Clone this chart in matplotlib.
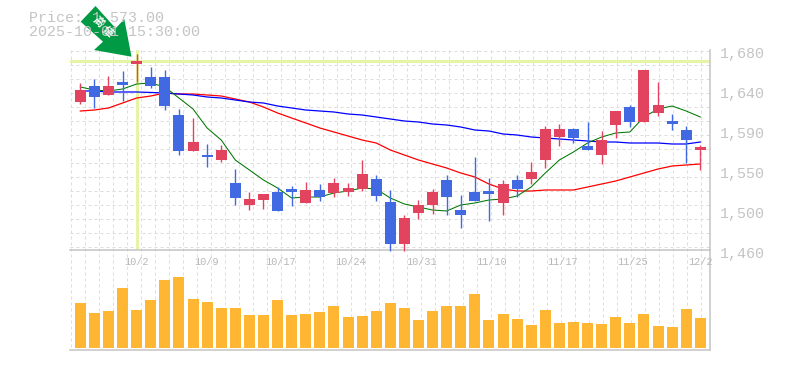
import numpy as np
import matplotlib
matplotlib.use('Agg')
import matplotlib.pyplot as plt
from matplotlib.patches import Polygon

# price data
open_ = [1622.8, 1640.4, 1630.5, 1644.8, 1664.6, 1650.3, 1650.3, 1608.5, 1568.9, 1564.5, 1559.0,
         1533.7, 1509.5, 1515.0, 1523.8, 1527.1, 1511.7, 1526.0, 1522.7, 1523.8, 1527.1,
         1538.1, 1512.8, 1466.6, 1500.7, 1509.5, 1537.0, 1504.0, 1523.8, 1524.9, 1511.7,
         1537.0, 1538.1, 1559.0, 1584.3, 1593.1, 1574.4, 1564.5, 1597.5, 1617.3, 1600.8,
         1610.7, 1601.9, 1592.0, 1570.0]
high_ = [1643.7, 1648.1, 1651.4, 1656.9, 1675.6, 1661.3, 1658.0, 1615.1, 1605.2, 1576.6, 1575.5,
         1549.1, 1523.8, 1521.6, 1529.3, 1530.4, 1534.8, 1532.6, 1539.2, 1533.7, 1559.0,
         1542.5, 1526.0, 1498.5, 1515.0, 1527.1, 1542.5, 1520.5, 1562.3, 1539.2, 1537.0,
         1542.5, 1556.8, 1596.4, 1598.6, 1594.2, 1600.8, 1590.9, 1612.9, 1619.5, 1658.0,
         1644.8, 1609.6, 1596.4, 1575.5]
low_ = [1620.6, 1616.2, 1630.5, 1623.9, 1644.8, 1638.2, 1614.0, 1564.5, 1568.9, 1551.3, 1556.8,
        1509.5, 1504.0, 1505.1, 1502.9, 1508.4, 1511.7, 1513.9, 1518.3, 1519.4, 1524.9,
        1513.9, 1458.9, 1458.9, 1494.1, 1499.6, 1498.5, 1484.2, 1513.9, 1491.9, 1498.5,
        1518.3, 1532.6, 1550.2, 1574.4, 1577.7, 1570.0, 1554.6, 1583.2, 1595.3, 1600.8,
        1607.4, 1592.0, 1555.7, 1548.0]
close_ = [1636.0, 1628.3, 1640.4, 1641.5, 1667.9, 1640.4, 1618.4, 1568.9, 1578.8, 1562.3, 1570.0,
          1517.2, 1516.1, 1521.6, 1502.9, 1523.8, 1526.0, 1518.3, 1533.7, 1528.2, 1543.6,
          1519.4, 1466.6, 1495.2, 1509.5, 1523.8, 1518.3, 1498.5, 1513.9, 1521.6, 1532.6,
          1527.1, 1545.8, 1593.1, 1593.1, 1583.2, 1570.0, 1581.0, 1612.9, 1600.8, 1658.0,
          1619.5, 1598.6, 1581.0, 1573.3]

ma_short = [1639.3, 1636.0, 1634.9, 1637.1, 1642.6, 1643.7, 1639.3, 1627.2, 1615.1, 1594.2, 1581.0,
            1559.0, 1548.0, 1537.0, 1528.2, 1517.2, 1518.3, 1518.3, 1522.7, 1524.9, 1528.2,
            1527.1, 1517.2, 1510.6, 1507.3, 1504.0, 1502.9, 1509.5, 1511.7, 1515.0, 1516.1,
            1519.4, 1529.3, 1544.7, 1559.0, 1567.8, 1577.7, 1584.3, 1588.7, 1589.8, 1606.3,
            1615.1, 1618.4, 1612.9, 1606.3]
ma_mid = [1634.9, 1634.9, 1633.8, 1633.8, 1633.8, 1633.3, 1632.7, 1631.6, 1630.5, 1628.3, 1627.2,
          1625.0, 1622.8, 1621.7, 1618.4, 1616.2, 1614.0, 1612.9, 1611.8, 1609.6, 1608.5,
          1606.3, 1604.1, 1601.9, 1600.8, 1598.6, 1597.5, 1595.3, 1592.0, 1590.9, 1587.6,
          1586.5, 1584.3, 1583.2, 1582.1, 1581.0, 1579.9, 1578.8, 1578.8, 1577.7, 1577.7,
          1577.7, 1576.6, 1576.6, 1578.8]
ma_long = [1612.9, 1614.0, 1616.2, 1621.7, 1627.2, 1629.4, 1632.7, 1631.6, 1631.6, 1630.5, 1629.4,
           1626.1, 1622.8, 1617.3, 1610.7, 1605.2, 1599.7, 1594.2, 1589.8, 1585.4, 1581.0,
           1577.7, 1570.0, 1564.5, 1559.0, 1554.6, 1550.2, 1544.7, 1540.3, 1532.6, 1527.1,
           1524.9, 1524.9, 1526.0, 1526.0, 1526.0, 1529.3, 1532.6, 1535.9, 1540.3, 1544.7,
           1549.1, 1552.4, 1553.5, 1554.6]

volume = [44.7, 34.7, 36.7, 59.7, 37.7, 47.7, 67.7, 70.7, 48.7, 45.7, 39.7,
          39.7, 32.7, 32.7, 47.7, 32.7, 33.7, 35.7, 41.7, 30.7, 31.7,
          36.7, 44.7, 39.7, 27.7, 36.7, 41.7, 41.7, 53.7, 27.7, 33.7,
          28.7, 22.7, 37.7, 24.7, 25.7, 24.7, 23.7, 30.7, 24.7, 33.7,
          21.7, 20.7, 38.7, 29.7]

price_ticks = [1680, 1636, 1592, 1548, 1504, 1460]
price_labels = ['1,680', '1,640', '1,590', '1,550', '1,500', '1,460']
date_pos = [4, 9, 14, 19, 24, 29, 34, 39, 44]
date_labels = ['10/2', '10/9', '10/17', '10/24', '10/31', '11/10', '11/17', '11/25', '12/2']
peak_price = 1667.4
peak_index = 4

W, H = 785, 370
RED = '#e2435f'
BLUE = '#4169e1'
ORANGE = '#ffb733'
HILITE = '#e5f5a5'
GRID = '#dddddd'
FRAME = '#c4c4c4'
TEXT = '#c4c4c4'
MONO = 'Liberation Mono'

fig = plt.figure(figsize=(W/100., H/100.), dpi=100)

# layer in pixel coords for grid
bg = fig.add_axes([0, 0, 1, 1], zorder=0)
bg.set_xlim(0, W)
bg.set_ylim(H, 0)
bg.axis('off')
for x in np.arange(70, 705, 14.):
    bg.plot([x+.5, x+.5], [50, 350], color=GRID, lw=.72, ls=(0, (3, 3)))
for y in np.arange(50, 249, 14.):
    bg.plot([70, 710], [y+.5, y+.5], color=GRID, lw=.72, ls=(0, (3, 3)))

xlim = (-0.731, 44.69)
ax1 = fig.add_axes([70./W, 120./H, 640./W, 200./H], zorder=1)
ax2 = fig.add_axes([70./W, 20./H, 640./W, 100./H], zorder=1)
for ax in (ax1, ax2):
    ax.patch.set_alpha(0)
    ax.set_xlim(xlim)
    ax.set_xticks([])
    ax.set_yticks([])
    ax.spines['top'].set_visible(False)
    ax.spines['left'].set_visible(False)
    ax.spines['right'].set_color(FRAME)
    ax.spines['bottom'].set_color(FRAME)
    ax.spines['right'].set_linewidth(1.1)
    ax.spines['bottom'].set_linewidth(1.1)
ax1.set_ylim(1460, 1680)
ax2.set_ylim(-2.3, 97.7)

ax1.axhline(peak_price, color=HILITE, lw=2.2, zorder=1)
ax1.axvline(peak_index, color=HILITE, lw=2.2, zorder=1)

idx = np.arange(len(close_))
ax1.plot(idx, ma_long, color='#ff0000', lw=.9, zorder=2)
ax1.plot(idx, ma_mid, color='#0000ff', lw=.9, zorder=2)
ax1.plot(idx, ma_short, color='#007800', lw=.75, zorder=2)

colors = [RED if c >= o else BLUE for o, c in zip(open_, close_)]
ax1.vlines(idx, low_, high_, colors=colors, lw=1., zorder=3, clip_on=False)
ax1.bar(idx, np.array(close_)-np.array(open_), bottom=open_, width=11/14.09,
        color=colors, zorder=3, clip_on=False)

ax2.bar(idx, volume, width=11/14.09, color=ORANGE, zorder=2)

# labels
for p, lab in zip(price_ticks, price_labels):
    ax1.annotate(lab, xy=(1, p), xycoords=('axes fraction', 'data'), xytext=(10, -4),
                 textcoords='offset pixels', color=TEXT, fontsize=10.8, family=MONO,
                 ha='left', va='center', annotation_clip=False)
for i, lab in zip(date_pos, date_labels):
    t = ax2.annotate(lab, xy=(i, 1), xycoords=('data', 'axes fraction'), xytext=(-12.5, -12),
                     textcoords='offset pixels', color='#b8b8b8', fontsize=7.4, family=MONO,
                     ha='left', va='center', annotation_clip=False)
    t.set_clip_path(plt.Rectangle((0, 0), 713, H, transform=None))
    t.set_clip_on(True)

bg2 = fig.add_axes([0, 0, 1, 1], zorder=2)
bg2.set_xlim(0, W)
bg2.set_ylim(H, 0)
bg2.axis('off')
bg2.text(29, 18, 'Price: 1,573.00', color=TEXT, fontsize=10.8, family=MONO, va='center', ha='left')
bg2.text(29, 32.5, '2025-10-01 15:30:00', color=TEXT, fontsize=10.8, family=MONO, va='center', ha='left')

# green marker
badge = [(95.5, 6), (80.7, 21.7), (103, 41.7), (94, 50), (131.5, 56.7), (124.3, 19), (115.7, 28.3)]
bg2.add_patch(Polygon(badge, closed=True, facecolor='#009a44', edgecolor='none'))
for (bx, by), ch in zip([(97.7, 21.7), (107.3, 32.3)], '高値'):
    bg2.text(bx, by, ch, color='white', fontsize=7.5, fontweight='bold', rotation=-45,
             family=['Noto Sans CJK JP', 'DejaVu Sans'], ha='center', va='center', rotation_mode='anchor')

fig.savefig('out.png', dpi=100)
